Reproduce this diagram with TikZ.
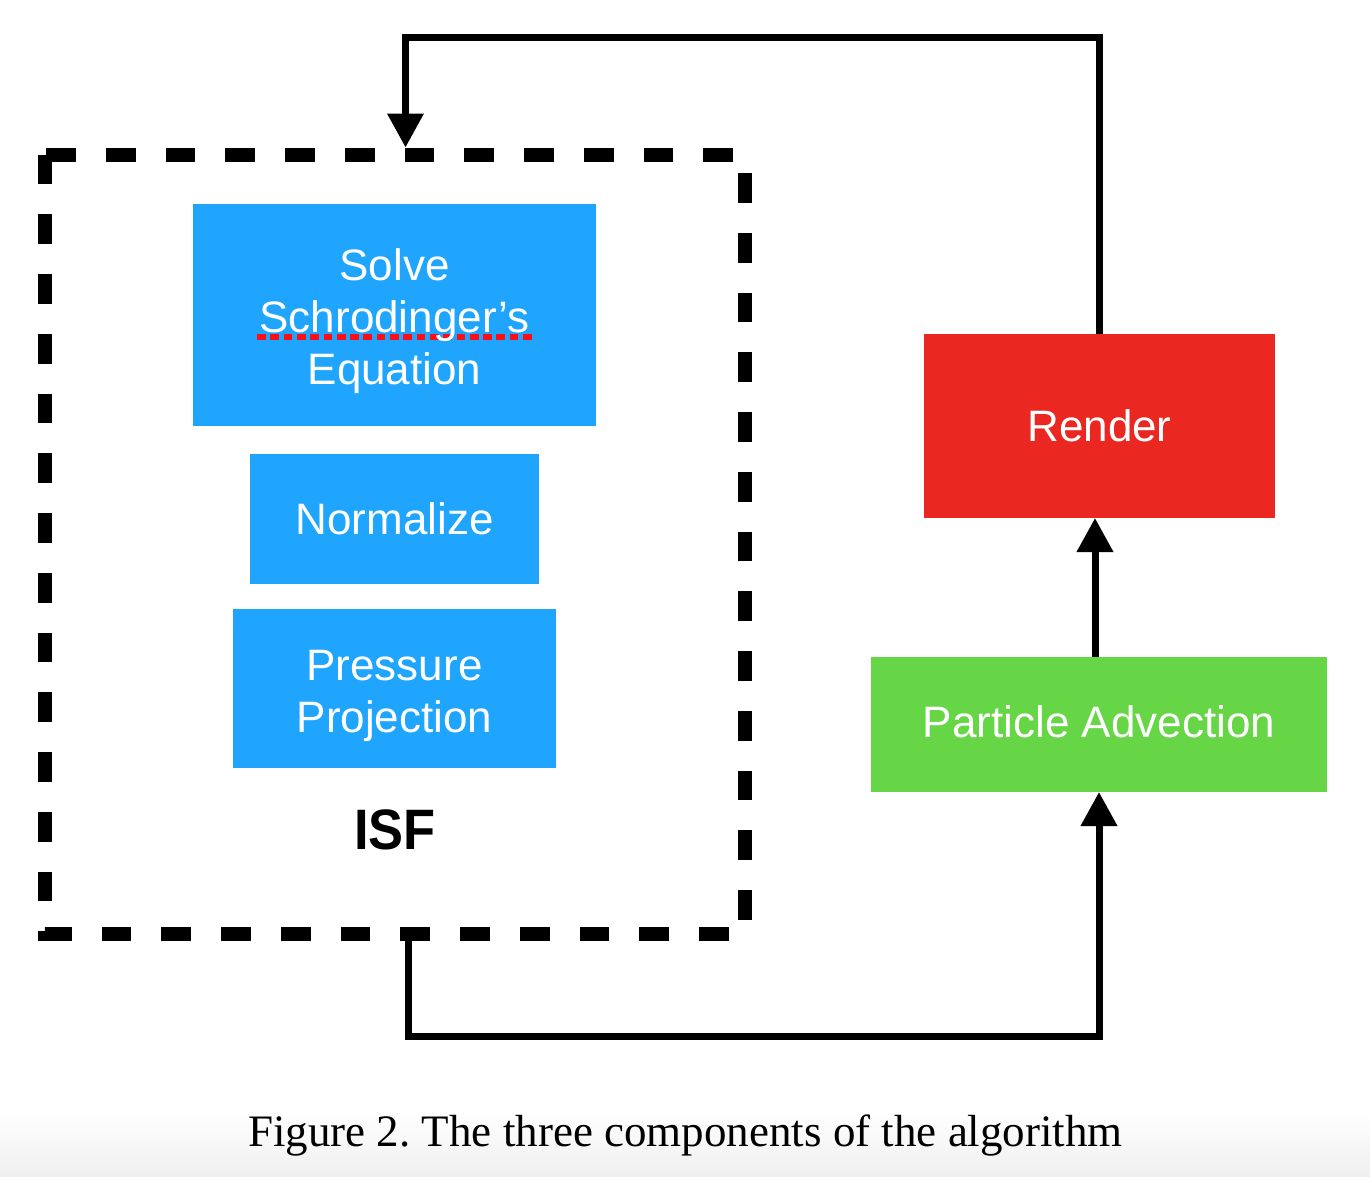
\documentclass[tikz,border=0pt]{standalone}
\usepackage{fontspec}
\setmainfont{Liberation Serif}
\setsansfont{Liberation Sans}
\usetikzlibrary{arrows.meta}
\definecolor{isfblue}{RGB}{31,165,253}
\definecolor{renderred}{RGB}{234,39,32}
\definecolor{advgreen}{RGB}{102,214,70}
\definecolor{spellred}{RGB}{255,12,22}
\frenchspacing
\begin{document}
\begin{tikzpicture}[x=1pt,y=-1pt,
  procbox/.style={rectangle, inner sep=0pt, outer sep=0pt, text=white,
    font=\sffamily\fontsize{44}{52}\selectfont, align=center},
  conn/.style={line width=7pt, line join=miter, -{Triangle[width=35pt,length=34pt]}},
  isfborder/.style={line width=14pt, line join=miter, dash pattern=on 29.75pt off 30pt},
  spell/.style={line width=5.5pt, spellred, dash pattern=on 8.7pt off 4.6pt},
  region/.style={rectangle, inner sep=0pt, outer sep=0pt}]
\useasboundingbox (0,0) rectangle (1370,1176);
\shade[top color=white, bottom color=black!6] (0,1110) rectangle (1370,1176);

% ISF region
\node[region, minimum width=714pt, minimum height=793.5pt] (isf) at (394.5,544.25) {};
\draw[isfborder] ([shift={(7,7)}]isf.north west) rectangle ([shift={(-7,-7)}]isf.south east);

% process boxes
\node[procbox, fill=isfblue, minimum width=403pt, minimum height=222pt,
  path picture={\draw[spell] ([shift={(-137.5,22)}]path picture bounding box.center) -- ([shift={(140.5,22)}]path picture bounding box.center);}]
  (solve) at (394.5,315) {\rule{0pt}{45pt}Solve\\Schrodinger’s\\Equation};
\node[procbox, fill=isfblue, minimum width=289pt, minimum height=130pt] (norm) at (394.5,519) {Normalize};
\node[procbox, fill=isfblue, minimum width=323pt, minimum height=159pt] (proj) at (394.5,688.5) {\rule{0pt}{45pt}Pressure\\Projection};
\node[procbox, fill=renderred, minimum width=351pt, minimum height=184pt] (render) at (1099.5,426) {Render};
\node[procbox, fill=advgreen, minimum width=456pt, minimum height=135pt] (adv) at (1099,724.5) {Particle Advection\rule[-6pt]{0pt}{6pt}};
\node[font=\sffamily\bfseries\fontsize{57}{60}\selectfont, anchor=base, inner sep=0pt] (isflabel) at (395,849) {\scalebox{0.92}[1]{ISF}};

% connectors
\coordinate (topy) at (0,37.3);
\coordinate (boty) at (0,1036);
\draw[conn] (render.north) -- (render.north |- topy) -| ([xshift=11pt]isf.north);
\draw[conn] ([xshift=-4pt]adv.north) -- ([xshift=-4pt]adv.north |- render.south);
\draw[conn] ([xshift=14pt]isf.south) -- ([xshift=14pt]isf.south |- boty) -| (adv.south);

% caption
\node[font=\rmfamily\fontsize{45}{50}\selectfont, anchor=base, inner sep=0pt] (caption) at (685.5,1146) {Figure 2. The three components of the algorithm};
\end{tikzpicture}
\end{document}
